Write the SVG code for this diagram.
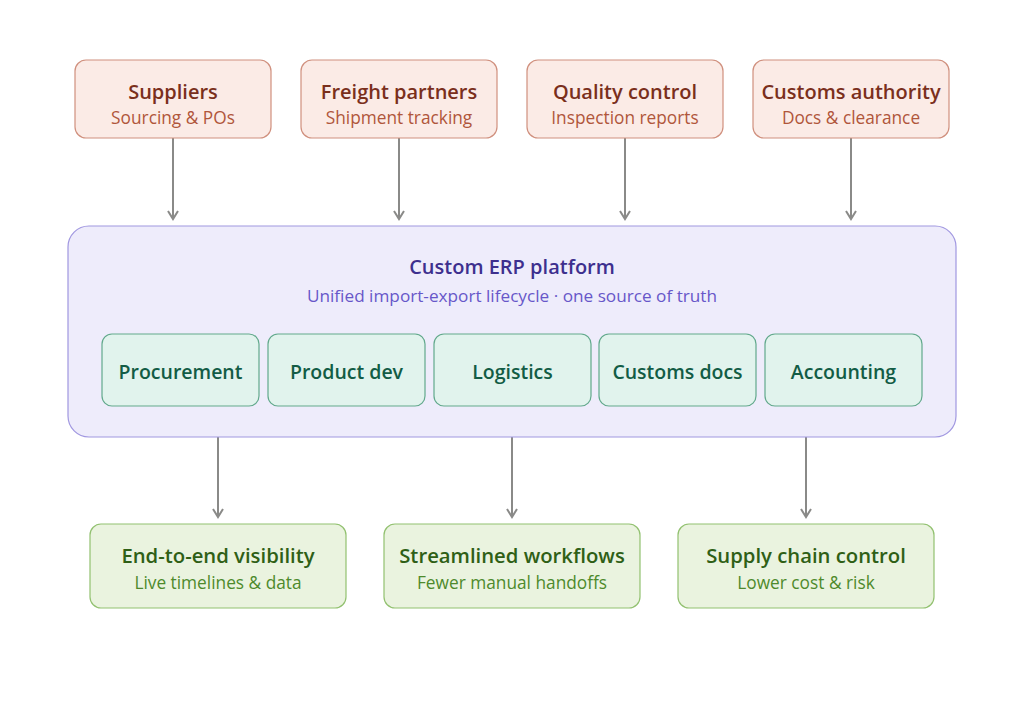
<svg xmlns="http://www.w3.org/2000/svg" width="1024" height="708" viewBox="0 0 1024 708">
<style>
text{font-family:"Open Sans","Noto Sans","Liberation Sans",sans-serif;text-anchor:middle}
.src rect{fill:#fbebe6;stroke:#d0907e;stroke-width:1.2}
.src .t{font-size:20px;font-weight:600;fill:#7a2f1c}
.src .s{font-size:17.3px;fill:#b0563b}
.erp{fill:#eeecfb;stroke:#a097e0;stroke-width:1.2}
.mod rect{fill:#e1f3ed;stroke:#62a98c;stroke-width:1.2}
.mod text{font-size:19.5px;font-weight:600;fill:#125c45}
.out rect{fill:#eaf3df;stroke:#92c170;stroke-width:1.2}
.out .t{font-size:20.3px;font-weight:600;fill:#2f5f16}
.out .s{font-size:17.3px;fill:#4e8a2c}
#connectors line{stroke:#8a8a88;stroke-width:2;marker-end:url(#arr)}
</style>
<defs>
<marker id="arr" viewBox="0 0 12 12" refX="10" refY="6" markerWidth="12" markerHeight="12" markerUnits="userSpaceOnUse" orient="auto">
<path d="M2 1 L10 6 L2 11" fill="none" stroke="#8a8a88" stroke-width="2"/>
</marker>
</defs>
<rect width="1024" height="708" fill="#ffffff"/>
<g id="connectors">
<line x1="173" y1="138" x2="173" y2="219"/>
<line x1="399" y1="138" x2="399" y2="219"/>
<line x1="625" y1="138" x2="625" y2="219"/>
<line x1="851" y1="138" x2="851" y2="219"/>
<line x1="218" y1="437" x2="218" y2="517"/>
<line x1="512" y1="437" x2="512" y2="517"/>
<line x1="806" y1="437" x2="806" y2="517"/>
</g>
<g id="suppliers" class="src"><rect x="75" y="60" width="196" height="78" rx="11"/><text class="t" x="173" y="99">Suppliers</text><text class="s" x="173" y="124">Sourcing &amp; POs</text></g>
<g id="freight" class="src"><rect x="301" y="60" width="196" height="78" rx="11"/><text class="t" x="399" y="99">Freight partners</text><text class="s" x="399" y="124">Shipment tracking</text></g>
<g id="quality" class="src"><rect x="527" y="60" width="196" height="78" rx="11"/><text class="t" x="625" y="99">Quality control</text><text class="s" x="625" y="124">Inspection reports</text></g>
<g id="customs" class="src"><rect x="753" y="60" width="196" height="78" rx="11"/><text class="t" x="851" y="99">Customs authority</text><text class="s" x="851" y="124">Docs &amp; clearance</text></g>
<g id="erp">
<rect class="erp" x="68" y="226" width="888" height="211" rx="21"/>
<text x="512" y="274" style="font-size:20px;font-weight:600;fill:#3d2f8e">Custom ERP platform</text>
<text x="512" y="302" style="font-size:17.2px;fill:#6757c9">Unified import-export lifecycle · one source of truth</text>
</g>
<g id="procurement" class="mod"><rect x="102" y="334" width="157" height="72" rx="10"/><text x="180.5" y="379">Procurement</text></g>
<g id="productdev" class="mod"><rect x="268" y="334" width="157" height="72" rx="10"/><text x="346.5" y="379">Product dev</text></g>
<g id="logistics" class="mod"><rect x="434" y="334" width="157" height="72" rx="10"/><text x="512.5" y="379">Logistics</text></g>
<g id="customsdocs" class="mod"><rect x="599" y="334" width="157" height="72" rx="10"/><text x="677.5" y="379">Customs docs</text></g>
<g id="accounting" class="mod"><rect x="765" y="334" width="157" height="72" rx="10"/><text x="843.5" y="379">Accounting</text></g>
<g id="visibility" class="out"><rect x="90" y="524" width="256" height="84" rx="11"/><text class="t" x="218" y="563">End-to-end visibility</text><text class="s" x="218" y="589">Live timelines &amp; data</text></g>
<g id="workflows" class="out"><rect x="384" y="524" width="256" height="84" rx="11"/><text class="t" x="512" y="563">Streamlined workflows</text><text class="s" x="512" y="589">Fewer manual handoffs</text></g>
<g id="control" class="out"><rect x="678" y="524" width="256" height="84" rx="11"/><text class="t" x="806" y="563">Supply chain control</text><text class="s" x="806" y="589">Lower cost &amp; risk</text></g>
</svg>
